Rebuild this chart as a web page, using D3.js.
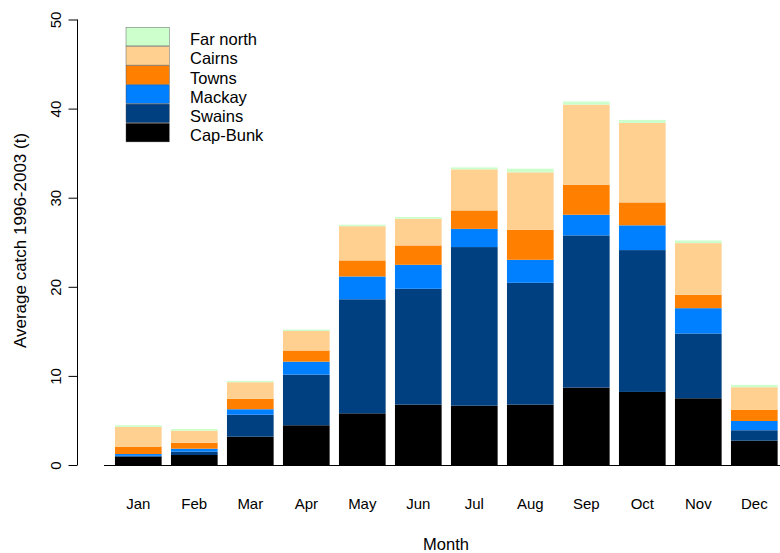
<!DOCTYPE html>
<html>
<head>
<meta charset="utf-8">
<script src="https://cdn.jsdelivr.net/npm/d3@7"></script>
<style>
  html, body { margin: 0; padding: 0; background: #fff; }
  svg { display: block; font-family: "Liberation Sans", Arial, sans-serif; }
</style>
</head>
<body>
<svg id="chart" width="780" height="553"></svg>
<script>
// Average catch (t) per month and region, 1996-2003
const months = ["Jan", "Feb", "Mar", "Apr", "May", "Jun", "Jul", "Aug", "Sep", "Oct", "Nov", "Dec"];
const capBunk  = [0.93, 1.12, 3.18, 4.46, 5.80, 6.78, 6.66, 6.78, 8.69, 8.20, 7.49, 2.73];
const swains   = [0.10, 0.38, 2.47, 5.69, 12.80, 13.00, 17.80, 13.67, 17.08, 15.92, 7.27, 1.17];
const mackay   = [0.20, 0.33, 0.61, 1.45, 2.56, 2.69, 2.04, 2.58, 2.32, 2.78, 2.84, 1.04];
const towns    = [0.79, 0.67, 1.16, 1.25, 1.80, 2.17, 2.07, 3.37, 3.37, 2.57, 1.50, 1.24];
const cairns   = [2.25, 1.35, 1.87, 2.20, 3.84, 3.00, 4.61, 6.45, 8.99, 8.92, 5.80, 2.55];
const farNorth = [0.19, 0.19, 0.15, 0.15, 0.17, 0.19, 0.22, 0.41, 0.35, 0.34, 0.30, 0.26];

const regions = ["Cap-Bunk", "Swains", "Mackay", "Towns", "Cairns", "Far north"];
const regionColors = ["#000000", "#004080", "#0080ff", "#ff8000", "#ffd08f", "#ccffcc"];
const yTicks = [0, 10, 20, 30, 40, 50];

const seriesValues = [capBunk, swains, mackay, towns, cairns, farNorth];
const table = months.map((m, i) => {
  const row = { month: m };
  regions.forEach((r, k) => { row[r] = seriesValues[k][i]; });
  return row;
});

const svg = d3.select("#chart");

const x = d3.scaleBand()
  .domain(months)
  .range([110.3, 782.3])
  .paddingInner(1 / 6)
  .paddingOuter(1 / 12);

const y = d3.scaleLinear().domain([0, 50]).range([465, 19.5]);

const color = d3.scaleOrdinal().domain(regions).range(regionColors);

const stacked = d3.stack().keys(regions)(table);

// stacked bars
svg.append("g")
  .selectAll("g")
  .data(stacked)
  .join("g")
  .attr("fill", d => color(d.key))
  .selectAll("rect")
  .data(d => d)
  .join("rect")
  .attr("x", d => x(d.data.month))
  .attr("width", x.bandwidth())
  .attr("y", d => y(d[1]))
  .attr("height", d => y(d[0]) - y(d[1]));

// baseline under the bars
svg.append("line")
  .attr("x1", 104).attr("x2", 780)
  .attr("y1", y(0) + 0.5).attr("y2", y(0) + 0.5)
  .attr("stroke", "#000").attr("stroke-width", 1);

// y axis
const yAxis = svg.append("g")
  .attr("transform", "translate(77.5,0)")
  .call(d3.axisLeft(y).tickValues(yTicks).tickSize(9).tickPadding(0).tickFormat(d3.format("d")));
yAxis.select(".domain").attr("stroke", "#000").attr("d", `M0,${y(0)}V${y(50)}`);
yAxis.selectAll(".tick line").attr("stroke", "#000");
yAxis.selectAll(".tick text")
  .attr("x", 0).attr("y", 0)
  .attr("transform", "translate(-16.5,0) rotate(-90)")
  .attr("text-anchor", "middle")
  .attr("dy", 0)
  .attr("font-size", 15)
  .attr("font-family", "Liberation Sans, Arial, sans-serif")
  .attr("fill", "#000");

// month labels
svg.append("g")
  .selectAll("text")
  .data(months)
  .join("text")
  .attr("x", d => x(d) + x.bandwidth() / 2)
  .attr("y", 508.5)
  .attr("text-anchor", "middle")
  .attr("font-size", 15)
  .attr("fill", "#000")
  .text(d => d);

// axis titles
svg.append("text")
  .attr("x", 446).attr("y", 550)
  .attr("text-anchor", "middle")
  .attr("font-size", 16.5)
  .text("Month");

svg.append("text")
  .attr("transform", "translate(25.5,240.5) rotate(-90)")
  .attr("text-anchor", "middle")
  .attr("font-size", 17)
  .text("Average catch 1996-2003 (t)");

// legend, top entry is the last stacked series
const legendItems = regions.slice().reverse();
const legend = svg.append("g");
legendItems.forEach((r, i) => {
  const top = 27.3 + i * 19.2;
  legend.append("rect")
    .attr("x", 126).attr("y", top)
    .attr("width", 43.3).attr("height", 18.6)
    .attr("fill", color(r))
    .attr("stroke", "#444").attr("stroke-width", 0.4);
  legend.append("text")
    .attr("x", 190).attr("y", top + 9.3 + 8.5)
    .attr("font-size", 16.5)
    .text(r);
});
</script>
</body>
</html>
